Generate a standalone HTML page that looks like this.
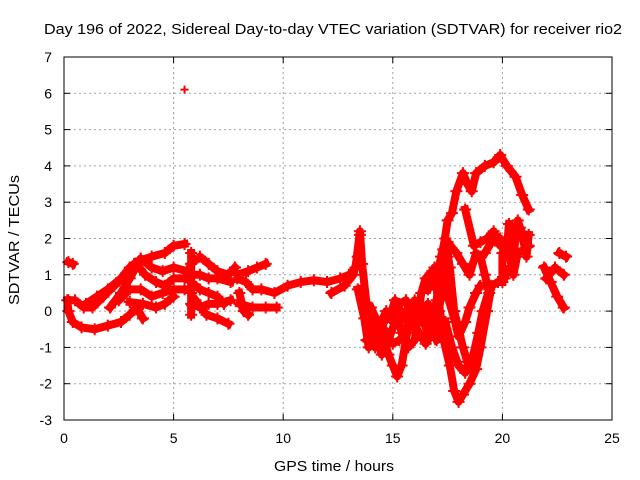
<!DOCTYPE html>
<html><head><meta charset="utf-8"><style>
body{margin:0;background:#fff;}
svg{display:block;font-family:"Liberation Sans",sans-serif;}
</style></head><body>
<svg id="chart" width="640" height="480" viewBox="0 0 640 480">
<rect width="640" height="480" fill="#fff"/>
<text x="44" y="34" font-size="15" textLength="578" lengthAdjust="spacingAndGlyphs">Day 196 of 2022, Sidereal Day-to-day VTEC variation (SDTVAR) for receiver rio2</text>
<g id="grid"></g>
<g id="ticks"></g>
<g id="series"></g>
<rect x="64" y="57" width="548" height="363" fill="none" stroke="#000" stroke-width="1"/>
<text x="274" y="471" font-size="15" textLength="120" lengthAdjust="spacingAndGlyphs">GPS time / hours</text>
<text x="0" y="0" font-size="15" textLength="130" lengthAdjust="spacingAndGlyphs" transform="translate(19,305) rotate(-90)">SDTVAR / TECUs</text>
</svg>
<script>
const xTicks=[0,5,10,15,20,25];
const yTicks=[-3,-2,-1,0,1,2,3,4,5,6,7];
const isolated=[[5.5,6.1]];
const tracks=[
[[0.2,1.35],[0.4,1.3]],
[[0.15,0.3],[0.2,0],[0.4,-0.3],[0.8,-0.45],[1.4,-0.5],[2.0,-0.4],[2.6,-0.3],[3.0,-0.1],[3.3,0.1],[3.6,-0.2]],
[[0.2,0.3],[0.5,0.3],[0.9,0.1],[1.3,0.1],[1.8,0.4],[2.3,0.7],[2.8,1.0],[3.2,1.3],[3.5,1.4],[4.0,1.5],[4.6,1.6],[5.0,1.8],[5.5,1.85]],
[[1.0,0.2],[1.5,0.4],[2.0,0.6],[2.6,0.9],[3.0,1.2],[3.3,1.3],[3.7,1.0],[4.2,0.8],[4.6,0.7],[5.0,0.9],[5.5,0.9]],
[[2.1,0.1],[2.6,0.5],[3.0,0.9],[3.5,1.45],[4.0,1.2],[4.5,1.1],[5.0,1.2],[5.6,1.1]],
[[2.5,0.3],[3.0,0.6],[3.5,0.6],[4.0,0.4],[4.5,0.5],[5.0,0.6],[5.5,0.6]],
[[3.0,0.25],[3.6,0.2],[4.2,0.1],[4.6,0.2],[5.0,0.4]],
[[5.8,-0.1],[5.8,0.5],[5.8,1.0],[5.8,1.6]],
[[5.8,1.3],[6.2,1.5],[6.6,1.3],[7.0,1.1],[7.5,1.0],[7.8,1.2]],
[[5.8,1.0],[6.2,1.0],[6.6,0.9],[7.0,0.9],[7.6,0.8]],
[[5.8,0.8],[6.2,0.6],[6.6,0.5],[7.0,0.4],[7.3,0.2]],
[[5.8,0.2],[6.2,0.1],[6.6,0.2],[7.0,0.2],[7.6,0.3]],
[[6.0,0.3],[6.5,-0.1],[7.0,-0.2],[7.5,-0.35]],
[[7.9,0.9],[8.3,0.8],[8.6,0.6],[9.0,0.6],[9.6,0.5],[10.2,0.7],[10.8,0.8],[11.4,0.85],[12.0,0.8],[12.6,0.9],[13.0,1.0]],
[[7.9,1.0],[8.4,1.1],[8.8,1.2],[9.2,1.3]],
[[8.0,0.2],[8.6,0.1],[9.2,0.1],[9.7,0.1]],
[[8.0,0.5],[8.2,0.0],[8.4,-0.1]],
[[12.2,0.5],[12.8,0.7],[13.2,1.0],[13.4,1.5],[13.5,2.1]],
[[12.9,0.9],[13.3,1.2],[13.5,2.2],[13.6,1.3],[13.8,0.2],[14.0,-0.4],[14.3,-0.7],[14.6,-0.8],[14.8,-1.2],[15.0,-1.5],[15.2,-1.8],[15.4,-1.5],[15.6,-0.8],[15.8,0],[16.0,0.3],[16.2,0.0],[16.4,-0.3],[16.6,-0.6],[16.8,-0.3],[17.0,0.3],[17.2,1.5],[17.4,2.0],[17.6,1.2],[17.8,0.0],[18.0,-0.5],[18.2,-1.0],[18.4,-1.4]],
[[13.8,-0.8],[14.2,-1.0],[14.6,-0.3],[14.9,-0.1],[15.1,0.3],[15.4,-0.6],[15.7,-1.0],[16.0,-0.8],[16.3,0.5],[16.5,0.9],[16.8,1.1],[17.0,0.6],[17.2,-0.2],[17.4,-0.5]],
[[14.0,0.1],[14.3,-0.3],[14.6,-0.5],[15.0,-0.9],[15.3,-0.8],[15.6,-0.6],[15.9,0.2],[16.1,0.2],[16.6,-0.2],[17.0,-0.8]],
[[13.4,0.6],[13.7,-0.2],[13.9,-1.0],[14.2,-0.6],[14.5,-1.2],[14.8,-0.8],[15.1,-0.3],[15.4,0.0],[15.7,-0.3],[16.0,-0.5],[16.3,-0.1],[16.6,0.2],[16.9,-0.1],[17.1,-0.4]],
[[14.1,-0.9],[14.4,-0.4],[14.7,0.0],[15.0,-0.3],[15.3,0.2],[15.6,0.3],[15.9,-0.3],[16.2,-0.6],[16.5,-0.9],[16.8,-0.6],[17.1,0.0],[17.3,0.8],[17.5,1.5]],
[[16.6,0.6],[16.9,1.2],[17.2,1.0],[17.5,0.4],[17.8,-0.2],[18.0,-0.7],[18.3,-0.3],[18.5,0.1],[18.8,0.5],[19.0,0.7]],
[[17.2,-0.5],[17.6,-1.5],[17.8,-2.2],[18.0,-2.5],[18.2,-2.3],[18.5,-2.0],[18.8,-1.6],[19.0,-1.0],[19.3,0.0],[19.5,0.7],[19.8,0.8],[20.1,0.9],[20.2,1.1]],
[[17.4,-0.3],[17.7,-1.0],[18.0,-1.5],[18.3,-1.7],[18.6,-1.4],[18.9,-0.6],[19.1,0.0],[19.4,0.6]],
[[17.0,1.0],[17.3,1.7],[17.5,2.5],[17.7,2.7],[17.9,3.3],[18.2,3.8],[18.4,3.5],[18.6,3.3],[18.8,3.8],[19.2,4.0],[19.6,4.1],[19.9,4.3],[20.2,4.0],[20.6,3.7],[20.9,3.2],[21.2,2.8]],
[[17.5,1.9],[17.9,1.6],[18.2,1.3],[18.5,1.0],[18.8,1.6],[19.0,1.5],[19.2,1.0],[19.4,0.5]],
[[18.3,2.8],[18.7,1.8],[19.0,1.9],[19.3,2.0],[19.6,2.2],[19.9,1.8],[20.2,1.9],[20.5,2.2],[20.8,2.3],[21.0,2.0],[21.2,1.8]],
[[19.2,1.6],[19.5,1.9],[19.9,2.0],[20.3,1.6],[20.5,1.0],[20.7,1.6],[21.0,1.7]],
[[20.0,0.8],[20.0,1.6],[20.2,1.7],[20.3,2.4]],
[[20.5,1.5],[20.7,2.5],[20.9,2.1],[21.1,1.5],[21.2,2.1]],
[[21.9,1.2],[22.2,0.8],[22.5,0.4],[22.8,0.1]],
[[22.0,0.9],[22.4,1.2],[22.8,1.0]],
[[22.6,1.6],[22.9,1.5]]
];
const NS="http://www.w3.org/2000/svg";
const X0=64,X1=612,Y0=420,Y1=57;
function sx(h){return X0+(h-0)/(25-0)*(X1-X0);}
function sy(v){return Y0-(v+3)/(7+3)*(Y0-Y1);}
const grid=document.getElementById('grid'),ticks=document.getElementById('ticks'),series=document.getElementById('series');
function mk(t,a,p){const e=document.createElementNS(NS,t);for(const k in a)e.setAttribute(k,a[k]);p.appendChild(e);return e;}
xTicks.forEach(t=>{const x=sx(t);
 if(t>0&&t<25){const g=mk('line',{x1:x,x2:x,y1:Y1,y2:Y0,stroke:'#a0a0a0','stroke-dasharray':'2,3'},grid);
 
 }
 mk('line',{x1:x,x2:x,y1:Y0,y2:Y0-6,stroke:'#000'},ticks);
 mk('line',{x1:x,x2:x,y1:Y1,y2:Y1+6,stroke:'#000'},ticks);
 const l=mk('text',{x:x,y:443,'font-size':14,'text-anchor':'middle'},ticks);l.textContent=t;
 
 
});
yTicks.forEach(t=>{const y=sy(t);
 if(t>-3&&t<7){const g=mk('line',{x1:X0,x2:X1,y1:y,y2:y,stroke:'#a0a0a0','stroke-dasharray':'2,3'},grid);
 
 }
 mk('line',{x1:X0,x2:X0+6,y1:y,y2:y,stroke:'#000'},ticks);
 mk('line',{x1:X1,x2:X1-6,y1:y,y2:y,stroke:'#000'},ticks);
 const l=mk('text',{x:52,y:y+5,'font-size':14,'text-anchor':'end'},ticks);l.textContent=t;
 
 
});
tracks.forEach(tr=>{
 const pl=mk('polyline',{points:tr.map(p=>sx(p[0])+','+sy(p[1])).join(' '),fill:'none',stroke:'#f00','stroke-width':8,'stroke-linejoin':'round','stroke-linecap':'square'},series);
 
 
 tr.forEach(p=>{const x=sx(p[0]),y=sy(p[1]);
  const c=mk('path',{d:`M${x-6} ${y}H${x+6}M${x} ${y-6}V${y+6}`,stroke:'#f00','stroke-width':2},series);
  
  
 });
});
isolated.forEach(p=>{const x=sx(p[0]),y=sy(p[1]);
 const c=mk('path',{d:`M${x-4} ${y}H${x+4}M${x} ${y-4}V${y+4}`,stroke:'#f00','stroke-width':2},series);
 
 
});
</script>
</body></html>
